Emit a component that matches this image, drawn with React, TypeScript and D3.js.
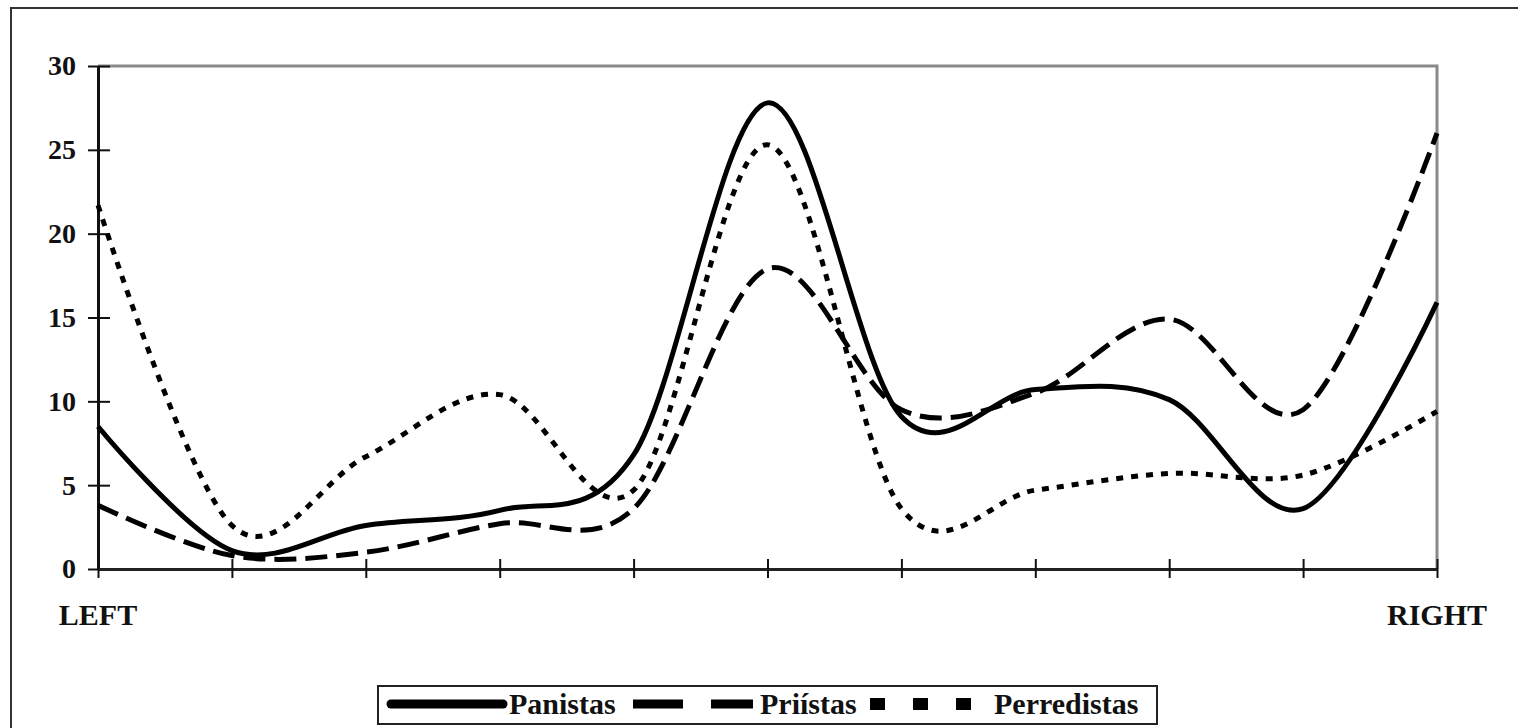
import React, { useRef, useEffect } from 'react'
import * as d3 from 'd3'

// positions along the left-right scale (11 points)
const positions = [0, 1, 2, 3, 4, 5, 6, 7, 8, 9, 10]
const yTickValues = [0, 5, 10, 15, 20, 25, 30]
const endLabels = ['LEFT', 'RIGHT']

const panistas = [8.5, 1.1, 2.6, 3.5, 6.8, 27.8, 9.1, 10.7, 10.1, 3.6, 15.9]
const priistas = [3.8, 0.8, 1.0, 2.7, 3.6, 17.9, 9.5, 10.5, 14.9, 9.5, 26.0]
const perredistas = [21.7, 2.6, 6.7, 10.4, 4.7, 25.3, 3.6, 4.7, 5.7, 5.6, 9.4]

const seriesNames = ['Panistas', 'Priístas', 'Perredistas']

const W = 1518
const H = 728
const FONT = "'Liberation Serif', 'Times New Roman', serif"

const App: React.FC = () => {
  const svgRef = useRef<SVGSVGElement>(null)

  useEffect(() => {
    if (!svgRef.current) return
    const svg = d3.select(svgRef.current)
    svg.selectAll('*').remove()

    const x = d3.scaleLinear().domain([0, 10]).range([98, 1437])
    const y = d3.scaleLinear().domain([0, 30]).range([569, 66])

    // outer frame (runs off the page on the right and bottom)
    svg.append('rect')
      .attr('x', 11).attr('y', 8)
      .attr('width', 1700).attr('height', 900)
      .attr('fill', 'none')
      .attr('stroke', '#333')
      .attr('stroke-width', 2)

    // plot border (top + right in gray)
    svg.append('path')
      .attr('d', `M${x(0)},${y(30)}H${x(10)}V${y(0)}`)
      .attr('fill', 'none')
      .attr('stroke', '#8a8a8a')
      .attr('stroke-width', 3)

    // y axis
    const yAxis = svg.append('g')
      .attr('transform', `translate(${x(0)},0)`)
      .call(d3.axisLeft(y).tickValues(yTickValues).tickSize(10).tickPadding(12).tickSizeOuter(0))
    yAxis.select('.domain').attr('stroke', '#111').attr('stroke-width', 3)
    yAxis.selectAll('.tick line').attr('x1', 12).attr('stroke', '#111').attr('stroke-width', 2)
    yAxis.selectAll('.tick text')
      .attr('font-family', FONT)
      .attr('font-weight', 'bold')
      .attr('font-size', 28)
      .attr('fill', '#111')

    // x axis
    const xAxis = svg.append('g')
      .attr('transform', `translate(0,${y(0)})`)
      .call(d3.axisBottom(x).tickValues(positions).tickSize(9).tickFormat(() => '').tickSizeOuter(0))
    xAxis.select('.domain').attr('stroke', '#222').attr('stroke-width', 3)
    xAxis.selectAll('.tick line').attr('y1', -10).attr('stroke', '#111').attr('stroke-width', 2)

    // LEFT / RIGHT labels
    svg.selectAll('.end-label')
      .data(endLabels)
      .enter().append('text')
      .attr('class', 'end-label')
      .attr('x', (d, i) => x(i === 0 ? positions[0] : positions[positions.length - 1]))
      .attr('y', 625)
      .attr('text-anchor', 'middle')
      .attr('font-family', FONT)
      .attr('font-weight', 'bold')
      .attr('font-size', 30)
      .attr('fill', '#111')
      .text(d => d)

    const line = d3.line<number>()
      .x((d, i) => x(positions[i]))
      .y(d => y(d))
      .curve(d3.curveCatmullRom.alpha(0))

    const series = [
      { name: seriesNames[0], values: panistas, dash: null },
      { name: seriesNames[1], values: priistas, dash: '22,9' },
      { name: seriesNames[2], values: perredistas, dash: '7,8' }
    ]

    series.forEach(s => {
      svg.append('path')
        .attr('d', line(s.values) || '')
        .attr('fill', 'none')
        .attr('stroke', '#000')
        .attr('stroke-width', 5)
        .attr('stroke-dasharray', s.dash)
        .attr('stroke-linejoin', 'round')
    })

    // legend
    const legend = svg.append('g')
    legend.append('rect')
      .attr('x', 378).attr('y', 686)
      .attr('width', 779).attr('height', 38)
      .attr('fill', '#fff')
      .attr('stroke', '#222')
      .attr('stroke-width', 2)

    const legendItems = [
      { x0: 387, tx: 509, dash: null, cap: 'round', w: 9 },
      { x0: 633, tx: 760, dash: '50,28', cap: 'butt', w: 9 },
      { x0: 870, tx: 994, dash: '15,28', cap: 'butt', w: 12 }
    ]
    legendItems.forEach((it, i) => {
      legend.append('line')
        .attr('x1', it.x0 + (it.cap === 'round' ? 4 : 0))
        .attr('x2', it.x0 + 120 - (it.cap === 'round' ? 4 : 0))
        .attr('y1', 704).attr('y2', 704)
        .attr('stroke', '#000')
        .attr('stroke-width', it.w)
        .attr('stroke-linecap', it.cap)
        .attr('stroke-dasharray', it.dash)
      legend.append('text')
        .attr('x', it.tx)
        .attr('y', 714)
        .attr('font-family', FONT)
        .attr('font-weight', 'bold')
        .attr('font-size', 30)
        .attr('fill', '#111')
        .text(seriesNames[i])
    })
  }, [])

  return (
    <svg
      ref={svgRef}
      width={W}
      height={H}
      style={{ position: 'absolute', left: 0, top: 0, background: '#fff', overflow: 'hidden' }}
    />
  )
}

export default App
